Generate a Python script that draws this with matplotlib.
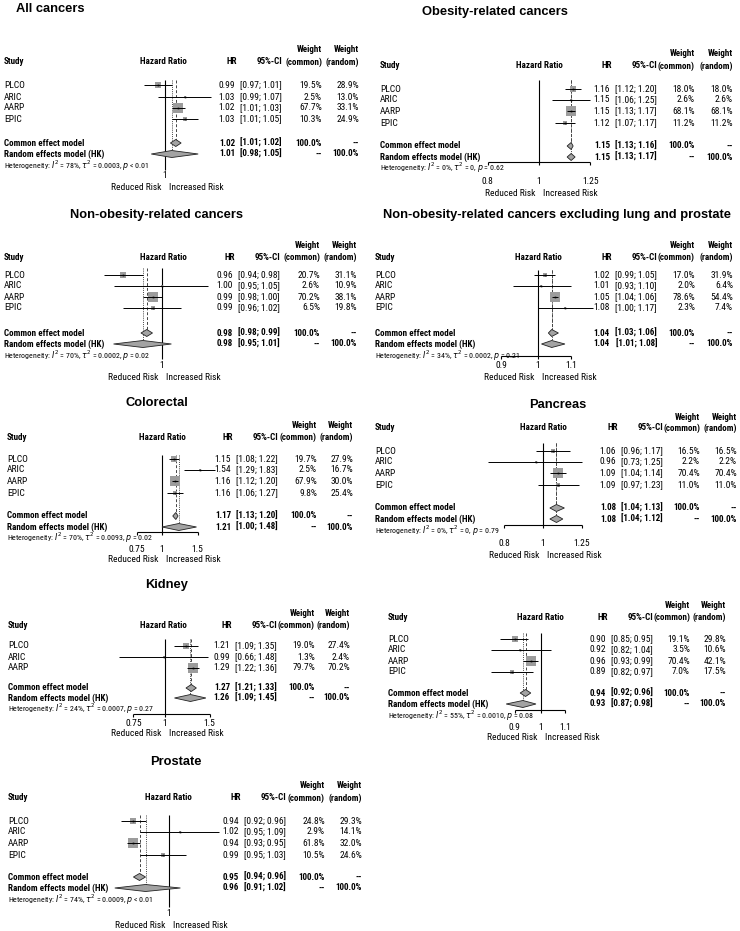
import os
import numpy as np
import matplotlib
matplotlib.use("Agg")
import matplotlib.pyplot as plt
from matplotlib.patches import Polygon
from matplotlib import font_manager as fm

# ---------------- fonts: prefer a condensed sans ----------------
_paths = set()
try:
    _paths |= set(fm.findSystemFonts())
except Exception:
    pass
_paths |= {f.fname for f in fm.fontManager.ttflist}
_bymap = {os.path.basename(p): p for p in _paths}

_pairs = [
    ("LiberationSansNarrow-Regular.ttf", "LiberationSansNarrow-Bold.ttf", 7.0, 5.8),
    ("RobotoCondensed-Regular.ttf", "RobotoCondensed-Bold.ttf", 6.8, 5.7),
    ("NotoSans-Condensed.ttf", "NotoSans-CondensedBold.ttf", 6.5, 5.4),
    ("NotoSans-CondensedRegular.ttf", "NotoSans-CondensedBold.ttf", 6.5, 5.4),
    ("OpenSans-CondensedRegular.ttf", "OpenSans-CondensedBold.ttf", 6.3, 5.2),
    ("DejaVuSansCondensed.ttf", "DejaVuSansCondensed-Bold.ttf", 6.3, 5.2),
]
REG_FILE = BOLD_FILE = None
BODY, HET = 6.0, 4.9
for r, b, s1, s2 in _pairs:
    if r in _bymap and b in _bymap:
        REG_FILE, BOLD_FILE, BODY, HET = _bymap[r], _bymap[b], s1, s2
        break

if REG_FILE:
    FP_REG = fm.FontProperties(fname=REG_FILE)
    FP_BOLD = fm.FontProperties(fname=BOLD_FILE)
else:
    FP_REG = fm.FontProperties(family='Liberation Sans')
    FP_BOLD = fm.FontProperties(family='Liberation Sans', weight='bold')

plt.rcParams['font.family'] = ['Liberation Sans', 'DejaVu Sans']
plt.rcParams['mathtext.fontset'] = 'custom'
plt.rcParams['mathtext.rm'] = 'Liberation Sans'
plt.rcParams['mathtext.it'] = 'Liberation Sans:italic'
plt.rcParams['mathtext.bf'] = 'Liberation Sans:bold'


def fp(bold=False, size=None):
    p = (FP_BOLD if bold else FP_REG).copy()
    if size is None:
        size = BODY - 0.3 if bold else BODY
    p.set_size(size)
    return p


# ---------------- data ----------------
titles = ["All cancers", "Obesity-related cancers", "Non-obesity-related cancers",
          "Non-obesity-related cancers excluding lung and prostate", "Colorectal",
          "Pancreas", "Kidney", "", "Prostate"]

studies4 = ["PLCO", "ARIC", "AARP", "EPIC"]
studies3 = ["PLCO", "ARIC", "AARP"]

all_hr = [0.99, 1.03, 1.02, 1.03]
all_lo = [0.97, 0.99, 1.01, 1.01]
all_hi = [1.01, 1.07, 1.03, 1.05]
all_wc = [19.5, 2.5, 67.7, 10.3]
all_wr = [28.9, 13.0, 33.1, 24.9]
all_common = [1.016, 1.008, 1.024]
all_random = [1.01, 0.98, 1.05]
all_het = ["78%", "0.0003", "< 0.01"]

obes_hr = [1.16, 1.15, 1.15, 1.12]
obes_lo = [1.12, 1.06, 1.13, 1.07]
obes_hi = [1.20, 1.25, 1.17, 1.17]
obes_wc = [18.0, 2.6, 68.1, 11.2]
obes_wr = [18.0, 2.6, 68.1, 11.2]
obes_common = [1.15, 1.13, 1.16]
obes_random = [1.15, 1.13, 1.17]
obes_het = ["0%", "0", "= 0.62"]

nonob_hr = [0.96, 1.00, 0.99, 0.99]
nonob_lo = [0.94, 0.95, 0.98, 0.96]
nonob_hi = [0.98, 1.05, 1.00, 1.02]
nonob_wc = [20.7, 2.6, 70.2, 6.5]
nonob_wr = [31.1, 10.9, 38.1, 19.8]
nonob_common = [0.984, 0.978, 0.99]
nonob_random = [0.98, 0.95, 1.01]
nonob_het = ["70%", "0.0002", "= 0.02"]

nonobx_hr = [1.02, 1.01, 1.05, 1.08]
nonobx_lo = [0.99, 0.93, 1.04, 1.00]
nonobx_hi = [1.05, 1.10, 1.06, 1.17]
nonobx_wc = [17.0, 2.0, 78.6, 2.3]
nonobx_wr = [31.9, 6.4, 54.4, 7.4]
nonobx_common = [1.04, 1.03, 1.06]
nonobx_random = [1.04, 1.01, 1.08]
nonobx_het = ["34%", "0.0002", "= 0.21"]

crc_hr = [1.15, 1.54, 1.16, 1.16]
crc_lo = [1.08, 1.29, 1.12, 1.06]
crc_hi = [1.22, 1.83, 1.20, 1.27]
crc_wc = [19.7, 2.5, 67.9, 9.8]
crc_wr = [27.9, 16.7, 30.0, 25.4]
crc_common = [1.17, 1.13, 1.20]
crc_random = [1.21, 1.00, 1.48]
crc_het = ["70%", "0.0093", "= 0.02"]

panc_hr = [1.06, 0.96, 1.09, 1.09]
panc_lo = [0.96, 0.73, 1.04, 0.97]
panc_hi = [1.17, 1.25, 1.14, 1.23]
panc_wc = [16.5, 2.2, 70.4, 11.0]
panc_wr = [16.5, 2.2, 70.4, 11.0]
panc_common = [1.08, 1.04, 1.13]
panc_random = [1.08, 1.04, 1.12]
panc_het = ["0%", "0", "= 0.79"]

kid_hr = [1.21, 0.99, 1.29]
kid_lo = [1.09, 0.66, 1.22]
kid_hi = [1.35, 1.48, 1.36]
kid_wc = [19.0, 1.3, 79.7]
kid_wr = [27.4, 2.4, 70.2]
kid_common = [1.27, 1.21, 1.33]
kid_random = [1.26, 1.09, 1.45]
kid_het = ["24%", "0.0007", "= 0.27"]

p8_hr = [0.90, 0.92, 0.96, 0.89]
p8_lo = [0.85, 0.82, 0.93, 0.82]
p8_hi = [0.95, 1.04, 0.99, 0.97]
p8_wc = [19.1, 3.5, 70.4, 7.0]
p8_wr = [29.8, 10.6, 42.1, 17.5]
p8_common = [0.94, 0.92, 0.96]
p8_random = [0.93, 0.87, 0.98]
p8_het = ["55%", "0.0010", "= 0.08"]

pros_hr = [0.94, 1.02, 0.94, 0.99]
pros_lo = [0.92, 0.95, 0.93, 0.95]
pros_hi = [0.96, 1.09, 0.95, 1.03]
pros_wc = [24.8, 2.9, 61.8, 10.5]
pros_wr = [29.3, 14.1, 32.0, 24.6]
pros_common = [0.95, 0.94, 0.96]
pros_random = [0.96, 0.91, 1.02]
pros_het = ["74%", "0.0009", "< 0.01"]

axis_ticks_a = [0.8, 1, 1.25]
axis_ticks_b = [0.9, 1, 1.1]
axis_ticks_c = [0.75, 1, 1.5]

panels = [
    dict(study=studies4, hr=all_hr, lo=all_lo, hi=all_hi, wc=all_wc, wr=all_wr, common=all_common, random=all_random, het=all_het),
    dict(study=studies4, hr=obes_hr, lo=obes_lo, hi=obes_hi, wc=obes_wc, wr=obes_wr, common=obes_common, random=obes_random, het=obes_het),
    dict(study=studies4, hr=nonob_hr, lo=nonob_lo, hi=nonob_hi, wc=nonob_wc, wr=nonob_wr, common=nonob_common, random=nonob_random, het=nonob_het),
    dict(study=studies4, hr=nonobx_hr, lo=nonobx_lo, hi=nonobx_hi, wc=nonobx_wc, wr=nonobx_wr, common=nonobx_common, random=nonobx_random, het=nonobx_het),
    dict(study=studies4, hr=crc_hr, lo=crc_lo, hi=crc_hi, wc=crc_wc, wr=crc_wr, common=crc_common, random=crc_random, het=crc_het),
    dict(study=studies4, hr=panc_hr, lo=panc_lo, hi=panc_hi, wc=panc_wc, wr=panc_wr, common=panc_common, random=panc_random, het=panc_het),
    dict(study=studies3, hr=kid_hr, lo=kid_lo, hi=kid_hi, wc=kid_wc, wr=kid_wr, common=kid_common, random=kid_random, het=kid_het),
    dict(study=studies4, hr=p8_hr, lo=p8_lo, hi=p8_hi, wc=p8_wc, wr=p8_wr, common=p8_common, random=p8_random, het=p8_het),
    dict(study=studies4, hr=pros_hr, lo=pros_lo, hi=pros_hi, wc=pros_wc, wr=pros_wr, common=pros_common, random=pros_random, het=pros_het),
]

# ---------------- layout (pixels, relative to panel origin) ----------------
layouts = [
    dict(origin=(0, 0), t=(16, 9, 'left'), yw=50, yh=62, rows=[85, 97, 108, 119], yc=143, yr=154, yhet=166, ytick=176, yrisk=188,
         xs=4, xhh=163, xci=282, xwc=322, xwr=359, ref=165, S=680, axis=None, vtop=80, vbot=170),
    dict(origin=(370, 0), t=(125, 12, 'center'), yw=53, yh=66, rows=[89, 100, 111, 123], yc=146, yr=157, yhet=168, ytick=181, yrisk=193,
         xs=10, xhh=169, xci=287, xwc=325, xwr=363, ref=169, S=230, axis=(0.8, 1.25, 162, axis_ticks_a), vtop=80, vbot=162),
    dict(origin=(0, 200), t=(157, 15, 'center'), yw=46, yh=57, rows=[75, 86, 97, 108], yc=133, yr=144, yhet=156, ytick=166, yrisk=178,
         xs=4, xhh=163, xci=280, xwc=320, xwr=357, ref=162, S=945, axis=None, vtop=68, vbot=159),
    dict(origin=(370, 200), t=(187, 15, 'center'), yw=46, yh=57, rows=[75, 86, 97, 108], yc=133, yr=144, yhet=156, ytick=166, yrisk=178,
         xs=5, xhh=168, xci=287, xwc=325, xwr=363, ref=168, S=350, axis=(0.9, 1.1, 156, axis_ticks_b), vtop=70, vbot=156),
    dict(origin=(0, 380), t=(157, 23, 'center'), yw=45, yh=57, rows=[79, 90, 101, 113], yc=136, yr=147, yhet=158, ytick=169, yrisk=180,
         xs=7, xhh=162, xci=278, xwc=317, xwr=353, ref=162, S=88, axis=(0.75, 1.5, 152, axis_ticks_c), vtop=75, vbot=152),
    dict(origin=(370, 380), t=(188, 25, 'center'), yw=37, yh=48, rows=[71, 82, 93, 105], yc=128, yr=139, yhet=151, ytick=164, yrisk=175,
         xs=5, xhh=173, xci=293, xwc=330, xwr=367, ref=173, S=175, axis=(0.8, 1.25, 145, axis_ticks_a), vtop=63, vbot=145),
    dict(origin=(0, 560), t=(167, 25, 'center'), yw=53, yh=65, rows=[86, 97, 108], yc=128, yr=138, yhet=149, ytick=163, yrisk=173,
         xs=8, xhh=163, xci=277, xwc=315, xwr=350, ref=165, S=110, axis=(0.75, 1.5, 154, axis_ticks_c), vtop=79, vbot=154),
    dict(origin=(370, 560), t=(187, 15, 'center'), yw=45, yh=57, rows=[79, 90, 101, 112], yc=133, yr=144, yhet=156, ytick=167, yrisk=177,
         xs=18, xhh=170, xci=283, xwc=320, xwr=356, ref=171, S=250, axis=(0.9, 1.1, 150, axis_ticks_b), vtop=73, vbot=150),
    dict(origin=(0, 740), t=(176, 22, 'center'), yw=45, yh=58, rows=[81, 92, 103, 115], yc=137, yr=148, yhet=160, ytick=173, yrisk=185,
         xs=8, xhh=168, xci=286, xwc=325, xwr=362, ref=169, S=575, axis=None, vtop=75, vbot=167),
]
HR_GAP = 47  # HR column right edge sits this many px left of the CI column right edge

FIG_W, FIG_H = 740, 931
PH = 192
fig = plt.figure(figsize=(FIG_W / 100, FIG_H / 100), dpi=100)
fig.patch.set_facecolor('white')


def ax_px(x, y, w, h):
    return fig.add_axes([x / FIG_W, 1 - (y + h) / FIG_H, w / FIG_W, h / FIG_H])


SQ_GRAY = '#9c9c9c'
DIA_GRAY = '#a3a3a3'

for title, d, L in zip(titles, panels, layouts):
    ox, oy = L['origin']
    xhr = L['xci'] - HR_GAP
    tax = ax_px(ox, oy, 370, PH)
    tax.set_xlim(0, 370)
    tax.set_ylim(PH, 0)
    tax.axis('off')

    ref, S = L['ref'], L['S']
    if L['axis'] is not None:
        glo, ghi = L['axis'][0], L['axis'][1]
    else:
        glo, ghi = np.exp(-50 / S), np.exp(50 / S)
    gx0 = ref + S * np.log(glo)
    gx1 = ref + S * np.log(ghi)
    gax = ax_px(ox + gx0, oy, gx1 - gx0, PH)
    gax.set_xscale('log')
    gax.set_xlim(glo, ghi)
    gax.set_ylim(PH, 0)
    gax.axis('off')

    # title
    tx, ty, tha = L['t']
    if title:
        tax.text(tx, ty, title, ha=tha, va='center', fontsize=9.3, fontweight='bold',
                 family=['Liberation Sans', 'DejaVu Sans'])

    # headers
    hb = fp(True)
    tax.text(L['xs'], L['yh'], "Study", ha='left', va='center', fontproperties=hb)
    tax.text(L['xhh'], L['yh'], "Hazard Ratio", ha='center', va='center', fontproperties=hb)
    tax.text(xhr + 2, L['yh'], "HR", ha='right', va='center', fontproperties=hb)
    tax.text(L['xci'], L['yh'], "95%-CI", ha='right', va='center', fontproperties=hb)
    tax.text(L['xwc'], L['yw'], "Weight", ha='right', va='center', fontproperties=hb)
    tax.text(L['xwc'], L['yh'], "(common)", ha='right', va='center', fontproperties=hb)
    tax.text(L['xwr'], L['yw'], "Weight", ha='right', va='center', fontproperties=hb)
    tax.text(L['xwr'], L['yh'], "(random)", ha='right', va='center', fontproperties=hb)

    # study rows
    rp = fp(False)
    for i, name in enumerate(d['study']):
        y = L['rows'][i]
        hr, lo, hi, wc, wr = d['hr'][i], d['lo'][i], d['hi'][i], d['wc'][i], d['wr'][i]
        tax.text(L['xs'], y, name, ha='left', va='center', fontproperties=rp)
        tax.text(xhr, y, f"{hr:.2f}", ha='right', va='center', fontproperties=rp)
        tax.text(L['xci'], y, f"[{lo:.2f}; {hi:.2f}]", ha='right', va='center', fontproperties=rp)
        tax.text(L['xwc'], y, f"{wc:.1f}%", ha='right', va='center', fontproperties=rp)
        tax.text(L['xwr'], y, f"{wr:.1f}%", ha='right', va='center', fontproperties=rp)
        side = 1.2 * np.sqrt(wc)
        gax.scatter([hr], [y], s=(side * 0.72) ** 2, marker='s', color=SQ_GRAY,
                    linewidths=0, zorder=2, clip_on=False)
        gax.hlines(y, lo, hi, color='black', lw=0.7, zorder=3, clip_on=False)
        gax.plot([hr], [y], marker='s', ms=1.2, color='black', mew=0, zorder=4, clip_on=False)

    # pooled rows
    pb = fp(True)
    for key, y, label, wc_txt, wr_txt in [('common', L['yc'], "Common effect model", "100.0%", "--"),
                                         ('random', L['yr'], "Random effects model (HK)", "--", "100.0%")]:
        est, lo, hi = d[key]
        tax.text(L['xs'], y, label, ha='left', va='center', fontproperties=pb)
        tax.text(xhr, y, f"{est:.2f}", ha='right', va='center', fontproperties=pb)
        tax.text(L['xci'], y, f"[{lo:.2f}; {hi:.2f}]", ha='right', va='center', fontproperties=pb)
        tax.text(L['xwc'], y, wc_txt, ha='right', va='center', fontproperties=pb)
        tax.text(L['xwr'], y, wr_txt, ha='right', va='center', fontproperties=pb)
        dia = Polygon([(lo, y), (est, y - 3.5), (hi, y), (est, y + 3.5)], closed=True,
                      facecolor=DIA_GRAY, edgecolor='#222222', lw=0.6, zorder=3, clip_on=False)
        gax.add_patch(dia)

    # heterogeneity
    i2, t2, pv = d['het']
    tax.text(L['xs'], L['yhet'],
             "Heterogeneity: $I^2$ = " + i2 + r", $\tau^2$ = " + t2 + ", $p$ " + pv,
             ha='left', va='center', fontproperties=fp(False, HET))

    # reference / pooled lines
    gax.vlines(1, L['vtop'], L['vbot'], color='black', lw=0.8, zorder=1, clip_on=False)
    gax.vlines(d['common'][0], L['vtop'], L['yc'], color='#444444', lw=0.7,
               linestyles=(0, (3, 2)), zorder=1, clip_on=False)
    gax.vlines(d['random'][0], L['vtop'], L['yr'], color='#444444', lw=0.7,
               linestyles=(0, (1, 1.2)), zorder=1, clip_on=False)

    # axis
    if L['axis'] is not None:
        alo, ahi, ya, ticks = L['axis']
        gax.hlines(ya, alo, ahi, color='black', lw=0.8, clip_on=False)
        for t in ticks:
            gax.vlines(t, ya, ya + 3, color='black', lw=0.8, clip_on=False)
            gax.text(t, L['ytick'], f"{t:g}", ha='center', va='center', fontproperties=rp, clip_on=False)
    else:
        gax.text(1, L['ytick'], "1", ha='center', va='center', fontproperties=rp, clip_on=False)

    # risk labels
    tax.text(ref - 4, L['yrisk'], "Reduced Risk", ha='right', va='center', fontproperties=rp)
    tax.text(ref + 4, L['yrisk'], "Increased Risk", ha='left', va='center', fontproperties=rp)

fig.savefig("out.png", dpi=100, facecolor='white')
